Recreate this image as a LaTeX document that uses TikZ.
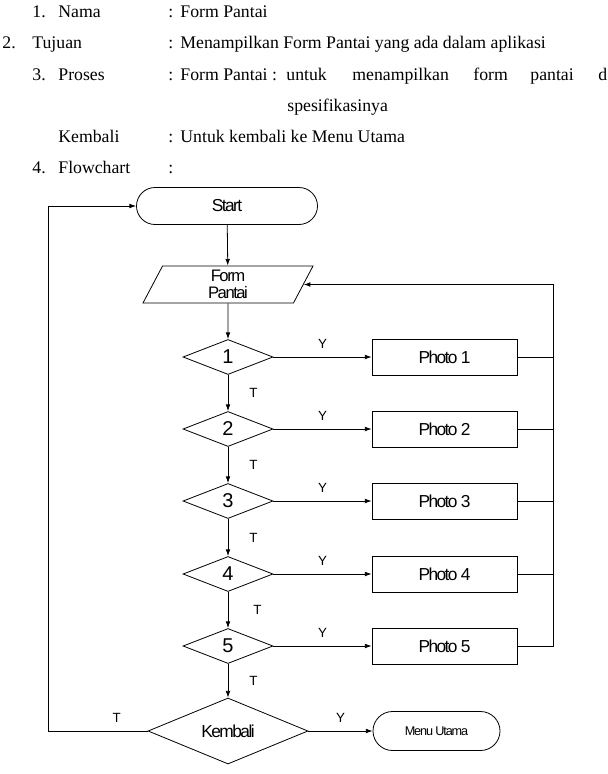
\documentclass[tikz,border=0pt]{standalone}
\usepackage{fontspec}
\setmainfont{Liberation Serif}
\newfontfamily\chartfont[LetterSpace=-9]{Liberation Sans}
\usetikzlibrary{shapes.geometric,shapes.misc,arrows.meta,positioning}

\begin{document}
\begin{tikzpicture}[x=0.75pt,y=-0.75pt,line width=0.6pt,
	txt/.style={anchor=base west,inner sep=0pt,font=\fontsize{13.3}{15}\selectfont},
	term/.style={draw,rounded rectangle,minimum width=135.75pt,minimum height=27.75pt,inner sep=0pt,font=\chartfont\fontsize{13}{14}\selectfont},
	io/.style={draw,trapezium,trapezium left angle=56,trapezium right angle=124,trapezium stretches body,minimum width=127.5pt,minimum height=27.75pt,inner sep=0pt,align=center,font=\chartfont\fontsize{12.5}{13}\selectfont},
	dec/.style={draw,diamond,minimum width=67.5pt,minimum height=26.25pt,inner sep=0pt,font=\chartfont\fontsize{15}{16}\selectfont},
	photo/.style={draw,rectangle,minimum width=108.75pt,minimum height=27pt,inner sep=0pt,font=\chartfont\fontsize{13}{14}\selectfont},
	lbl/.style={inner sep=0pt,font=\chartfont\fontsize{10}{11}\selectfont},
	flow/.style={-{Latex[length=5pt,width=3.5pt]}}]
	\useasboundingbox (0,0) rectangle (607,774);

	% keterangan
	\node[txt] (no1) at (32,18) {1.};
	\node[txt] (nama) at (58,18) {Nama};
	\node[txt] (c1) at (168,18) {:};
	\node[txt] (isi1) at (180,18) {Form Pantai};
	\node[txt] (no2) at (2,49) {2.};
	\node[txt] (tujuan) at (32,49) {Tujuan};
	\node[txt] (c2) at (168,49) {:};
	\node[txt] (isi2) at (180,49) {Menampilkan Form Pantai yang ada dalam aplikasi};
	\node[txt] (no3) at (32,80) {3.};
	\node[txt] (proses) at (58,80) {Proses};
	\node[txt] (c3) at (168,80) {:};
	\node[txt] (isi3) at (180,80) {Form Pantai :};
	\node[txt] (w1) at (286,80) {untuk};
	\node[txt] (w2) at (352,80) {menampilkan};
	\node[txt] (w3) at (473,80) {form};
	\node[txt] (w4) at (530,80) {pantai};
	\node[txt] (w5) at (598,80) {d};
	\node[txt] (w6) at (287,111) {spesifikasinya};
	\node[txt] (kembali) at (58,142) {Kembali};
	\node[txt] (c4) at (168,142) {:};
	\node[txt] (isi4) at (180,142) {Untuk kembali ke Menu Utama};
	\node[txt] (no4) at (32,173) {4.};
	\node[txt] (flowchart) at (58,173) {Flowchart};
	\node[txt] (c5) at (168,173) {:};

	% flowchart
	\node[term] (start) at (227,206) {Start};
	\node[io] (form) at (228,284.5) {Form\\Pantai};
	\node[dec] (d1) at (228,357) {1};
	\node[dec] (d2) at (228,429) {2};
	\node[dec] (d3) at (228,501) {3};
	\node[dec] (d4) at (228,574) {4};
	\node[dec] (d5) at (228,646) {5};
	\node[dec,minimum width=120pt,minimum height=48.75pt,font=\chartfont\fontsize{13}{14}\selectfont] (kem) at (228,731) {Kembali};
	\node[photo] (p1) at (444.5,357) {Photo 1};
	\node[photo] (p2) at (444.5,429) {Photo 2};
	\node[photo] (p3) at (444.5,501) {Photo 3};
	\node[photo] (p4) at (444.5,574) {Photo 4};
	\node[photo] (p5) at (444.5,646) {Photo 5};
	\node[term,minimum width=95.25pt,minimum height=29.25pt,font=\chartfont\fontsize{9.5}{10}\selectfont] (menu) at (436.5,731) {Menu Utama};
	\coordinate (rail) at (553,0);
	\coordinate (back) at (48,0);

	\draw[flow] (start) -- (form);
	\draw[flow] (form) -- (d1);
	\draw[flow] (d1) -- node[lbl,xshift=19pt] {T} (d2);
	\draw[flow] (d2) -- node[lbl,xshift=19pt] {T} (d3);
	\draw[flow] (d3) -- node[lbl,xshift=19pt] {T} (d4);
	\draw[flow] (d4) -- node[lbl,xshift=22pt] {T} (d5);
	\draw[flow] (d5) -- node[lbl,xshift=19pt] {T} (kem);
	\foreach \i in {1,...,5}{
		\draw[flow] (d\i) -- node[lbl,above=6pt] {Y} (p\i);
	}
	\foreach \i in {1,...,4}{
		\draw (p\i.east) -- (p\i.east -| rail);
	}
	\draw[flow] (p5.east) -- (p5.east -| rail) |- (form);
	\draw[flow] (kem) -- node[lbl,above=6pt] {Y} (menu);
	\draw[flow] (kem) -- node[lbl,pos=0.31,above=6pt] {T} (kem.west -| back) |- (start);
\end{tikzpicture}
\end{document}
